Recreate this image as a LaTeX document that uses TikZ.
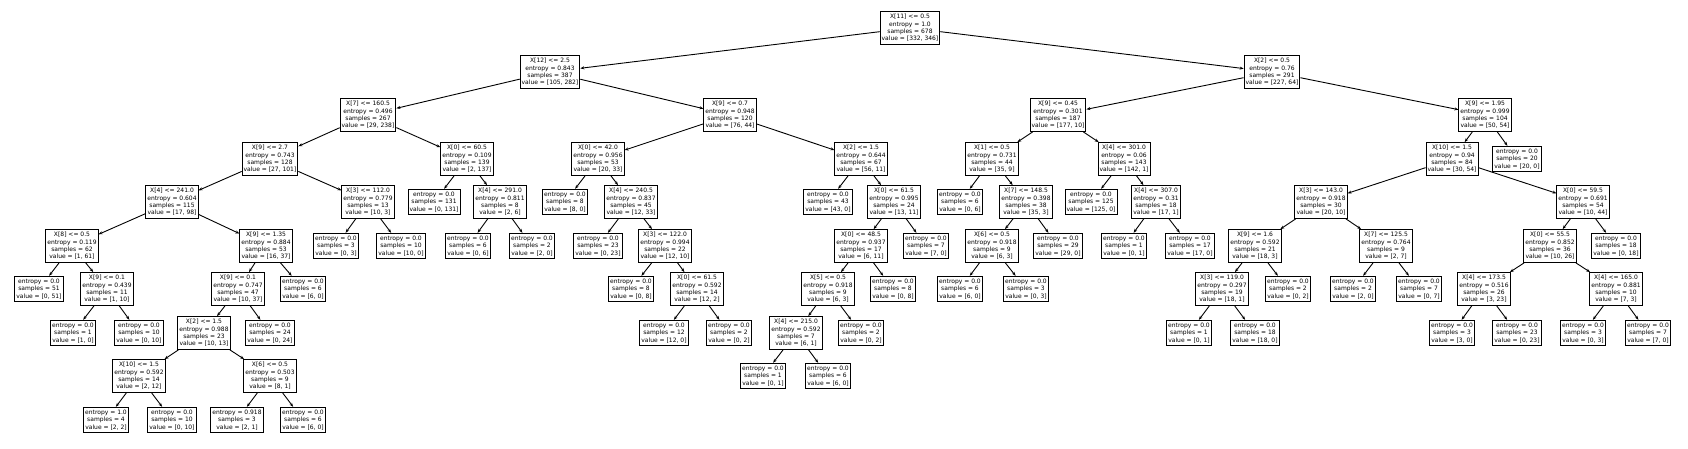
\documentclass[tikz,border=0pt]{standalone}
\usepackage{fontspec}
\setmainfont{DejaVu Sans}
\usepackage{tikz}
\usetikzlibrary{arrows.meta}
\tikzstyle{box} = [rectangle, draw=black, fill=white, line width=0.9pt, align=center, inner xsep=1.5pt, inner ysep=2.8pt, font=\fontsize{6}{7.3}\selectfont]
\tikzstyle{arrow} = [line width=0.9pt, ->, >={Stealth[length=4pt, width=3pt]}]

\begin{document}
\begin{tikzpicture}[x=1pt, y=-1pt]
  \useasboundingbox (0,0) rectangle (1688,449);

  % left half of the tree
  \node[box] (n0) at (910,28) {X[11] <= 0.5\\entropy = 1.0\\samples = 678\\value = [332, 346]};
  \node[box] (n1) at (550,72) {X[12] <= 2.5\\entropy = 0.843\\samples = 387\\value = [105, 282]};
  \node[box] (n2) at (368,115) {X[7] <= 160.5\\entropy = 0.496\\samples = 267\\value = [29, 238]};
  \node[box] (n3) at (270,159) {X[9] <= 2.7\\entropy = 0.743\\samples = 128\\value = [27, 101]};
  \node[box] (n4) at (172,202) {X[4] <= 241.0\\entropy = 0.604\\samples = 115\\value = [17, 98]};
  \node[box] (n5) at (72,246) {X[8] <= 0.5\\entropy = 0.119\\samples = 62\\value = [1, 61]};
  \node[box] (n6) at (39,289) {entropy = 0.0\\samples = 51\\value = [0, 51]};
  \node[box] (n7) at (107,289) {X[9] <= 0.1\\entropy = 0.439\\samples = 11\\value = [1, 10]};
  \node[box] (n8) at (73,333) {entropy = 0.0\\samples = 1\\value = [1, 0]};
  \node[box] (n9) at (139,333) {entropy = 0.0\\samples = 10\\value = [0, 10]};
  \node[box] (n10) at (266,246) {X[9] <= 1.35\\entropy = 0.884\\samples = 53\\value = [16, 37]};
  \node[box] (n11) at (238,289) {X[9] <= 0.1\\entropy = 0.747\\samples = 47\\value = [10, 37]};
  \node[box] (n12) at (204,333) {X[2] <= 1.5\\entropy = 0.988\\samples = 23\\value = [10, 13]};
  \node[box] (n13) at (139,376) {X[10] <= 1.5\\entropy = 0.592\\samples = 14\\value = [2, 12]};
  \node[box] (n14) at (106,420) {entropy = 1.0\\samples = 4\\value = [2, 2]};
  \node[box] (n15) at (172,420) {entropy = 0.0\\samples = 10\\value = [0, 10]};
  \node[box] (n16) at (270,376) {X[6] <= 0.5\\entropy = 0.503\\samples = 9\\value = [8, 1]};
  \node[box] (n17) at (237,420) {entropy = 0.918\\samples = 3\\value = [2, 1]};
  \node[box] (n18) at (303,420) {entropy = 0.0\\samples = 6\\value = [6, 0]};
  \node[box] (n19) at (270,333) {entropy = 0.0\\samples = 24\\value = [0, 24]};
  \node[box] (n20) at (303,289) {entropy = 0.0\\samples = 6\\value = [6, 0]};
  \node[box] (n21) at (368,202) {X[3] <= 112.0\\entropy = 0.779\\samples = 13\\value = [10, 3]};
  \node[box] (n22) at (336,246) {entropy = 0.0\\samples = 3\\value = [0, 3]};
  \node[box] (n23) at (401,246) {entropy = 0.0\\samples = 10\\value = [10, 0]};
  \node[box] (n24) at (467,159) {X[0] <= 60.5\\entropy = 0.109\\samples = 139\\value = [2, 137]};
  \node[box] (n25) at (434,202) {entropy = 0.0\\samples = 131\\value = [0, 131]};
  \node[box] (n26) at (500,202) {X[4] <= 291.0\\entropy = 0.811\\samples = 8\\value = [2, 6]};
  \node[box] (n27) at (468,246) {entropy = 0.0\\samples = 6\\value = [0, 6]};
  \node[box] (n28) at (532,246) {entropy = 0.0\\samples = 2\\value = [2, 0]};
  \node[box] (n29) at (730,115) {X[9] <= 0.7\\entropy = 0.948\\samples = 120\\value = [76, 44]};
  \node[box] (n30) at (598,159) {X[0] <= 42.0\\entropy = 0.956\\samples = 53\\value = [20, 33]};
  \node[box] (n31) at (565,202) {entropy = 0.0\\samples = 8\\value = [8, 0]};
  \node[box] (n32) at (631,202) {X[4] <= 240.5\\entropy = 0.837\\samples = 45\\value = [12, 33]};
  \node[box] (n33) at (598,246) {entropy = 0.0\\samples = 23\\value = [0, 23]};
  \node[box] (n34) at (665,246) {X[3] <= 122.0\\entropy = 0.994\\samples = 22\\value = [12, 10]};
  \node[box] (n35) at (631,289) {entropy = 0.0\\samples = 8\\value = [0, 8]};
  \node[box] (n36) at (697,289) {X[0] <= 61.5\\entropy = 0.592\\samples = 14\\value = [12, 2]};
  \node[box] (n37) at (664,333) {entropy = 0.0\\samples = 12\\value = [12, 0]};
  \node[box] (n38) at (729,333) {entropy = 0.0\\samples = 2\\value = [0, 2]};
  \node[box] (n39) at (861,159) {X[2] <= 1.5\\entropy = 0.644\\samples = 67\\value = [56, 11]};
  \node[box] (n40) at (828,202) {entropy = 0.0\\samples = 43\\value = [43, 0]};
  \node[box] (n41) at (894,202) {X[0] <= 61.5\\entropy = 0.995\\samples = 24\\value = [13, 11]};
  \node[box] (n42) at (861,246) {X[0] <= 48.5\\entropy = 0.937\\samples = 17\\value = [6, 11]};
  \node[box] (n43) at (828,289) {X[5] <= 0.5\\entropy = 0.918\\samples = 9\\value = [6, 3]};
  \node[box] (n44) at (796,333) {X[4] <= 215.0\\entropy = 0.592\\samples = 7\\value = [6, 1]};
  \node[box] (n45) at (763,376) {entropy = 0.0\\samples = 1\\value = [0, 1]};
  \node[box] (n46) at (828,376) {entropy = 0.0\\samples = 6\\value = [6, 0]};
  \node[box] (n47) at (861,333) {entropy = 0.0\\samples = 2\\value = [0, 2]};
  \node[box] (n48) at (893,289) {entropy = 0.0\\samples = 8\\value = [0, 8]};
  \node[box] (n49) at (926,246) {entropy = 0.0\\samples = 7\\value = [7, 0]};

  % right half of the tree
  \node[box] (n50) at (1272,72) {X[2] <= 0.5\\entropy = 0.76\\samples = 291\\value = [227, 64]};
  \node[box] (n51) at (1058,115) {X[9] <= 0.45\\entropy = 0.301\\samples = 187\\value = [177, 10]};
  \node[box] (n52) at (992,159) {X[1] <= 0.5\\entropy = 0.731\\samples = 44\\value = [35, 9]};
  \node[box] (n53) at (960,202) {entropy = 0.0\\samples = 6\\value = [0, 6]};
  \node[box] (n54) at (1026,202) {X[7] <= 148.5\\entropy = 0.398\\samples = 38\\value = [35, 3]};
  \node[box] (n55) at (992,246) {X[6] <= 0.5\\entropy = 0.918\\samples = 9\\value = [6, 3]};
  \node[box] (n56) at (960,289) {entropy = 0.0\\samples = 6\\value = [6, 0]};
  \node[box] (n57) at (1026,289) {entropy = 0.0\\samples = 3\\value = [0, 3]};
  \node[box] (n58) at (1058,246) {entropy = 0.0\\samples = 29\\value = [29, 0]};
  \node[box] (n59) at (1124,159) {X[4] <= 301.0\\entropy = 0.06\\samples = 143\\value = [142, 1]};
  \node[box] (n60) at (1091,202) {entropy = 0.0\\samples = 125\\value = [125, 0]};
  \node[box] (n61) at (1156,202) {X[4] <= 307.0\\entropy = 0.31\\samples = 18\\value = [17, 1]};
  \node[box] (n62) at (1124,246) {entropy = 0.0\\samples = 1\\value = [0, 1]};
  \node[box] (n63) at (1190,246) {entropy = 0.0\\samples = 17\\value = [17, 0]};
  \node[box] (n64) at (1485,115) {X[9] <= 1.95\\entropy = 0.999\\samples = 104\\value = [50, 54]};
  \node[box] (n65) at (1452,159) {X[10] <= 1.5\\entropy = 0.94\\samples = 84\\value = [30, 54]};
  \node[box] (n66) at (1321,202) {X[3] <= 143.0\\entropy = 0.918\\samples = 30\\value = [20, 10]};
  \node[box] (n67) at (1255,246) {X[9] <= 1.6\\entropy = 0.592\\samples = 21\\value = [18, 3]};
  \node[box] (n68) at (1222,289) {X[3] <= 119.0\\entropy = 0.297\\samples = 19\\value = [18, 1]};
  \node[box] (n69) at (1189,333) {entropy = 0.0\\samples = 1\\value = [0, 1]};
  \node[box] (n70) at (1255,333) {entropy = 0.0\\samples = 18\\value = [18, 0]};
  \node[box] (n71) at (1288,289) {entropy = 0.0\\samples = 2\\value = [0, 2]};
  \node[box] (n72) at (1386,246) {X[7] <= 125.5\\entropy = 0.764\\samples = 9\\value = [2, 7]};
  \node[box] (n73) at (1353,289) {entropy = 0.0\\samples = 2\\value = [2, 0]};
  \node[box] (n74) at (1419,289) {entropy = 0.0\\samples = 7\\value = [0, 7]};
  \node[box] (n75) at (1583,202) {X[0] <= 59.5\\entropy = 0.691\\samples = 54\\value = [10, 44]};
  \node[box] (n76) at (1550,246) {X[0] <= 55.5\\entropy = 0.852\\samples = 36\\value = [10, 26]};
  \node[box] (n77) at (1484,289) {X[4] <= 173.5\\entropy = 0.516\\samples = 26\\value = [3, 23]};
  \node[box] (n78) at (1452,333) {entropy = 0.0\\samples = 3\\value = [3, 0]};
  \node[box] (n79) at (1517,333) {entropy = 0.0\\samples = 23\\value = [0, 23]};
  \node[box] (n80) at (1616,289) {X[4] <= 165.0\\entropy = 0.881\\samples = 10\\value = [7, 3]};
  \node[box] (n81) at (1583,333) {entropy = 0.0\\samples = 3\\value = [0, 3]};
  \node[box] (n82) at (1648,333) {entropy = 0.0\\samples = 7\\value = [7, 0]};
  \node[box] (n83) at (1616,246) {entropy = 0.0\\samples = 18\\value = [0, 18]};
  \node[box] (n84) at (1517,159) {entropy = 0.0\\samples = 20\\value = [20, 0]};

  % edges
  \draw[arrow] (n0) -- (n1);
  \draw[arrow] (n1) -- (n2);
  \draw[arrow] (n2) -- (n3);
  \draw[arrow] (n3) -- (n4);
  \draw[arrow] (n4) -- (n5);
  \draw[arrow] (n5) -- (n6);
  \draw[arrow] (n5) -- (n7);
  \draw[arrow] (n7) -- (n8);
  \draw[arrow] (n7) -- (n9);
  \draw[arrow] (n4) -- (n10);
  \draw[arrow] (n10) -- (n11);
  \draw[arrow] (n11) -- (n12);
  \draw[arrow] (n12) -- (n13);
  \draw[arrow] (n13) -- (n14);
  \draw[arrow] (n13) -- (n15);
  \draw[arrow] (n12) -- (n16);
  \draw[arrow] (n16) -- (n17);
  \draw[arrow] (n16) -- (n18);
  \draw[arrow] (n11) -- (n19);
  \draw[arrow] (n10) -- (n20);
  \draw[arrow] (n3) -- (n21);
  \draw[arrow] (n21) -- (n22);
  \draw[arrow] (n21) -- (n23);
  \draw[arrow] (n2) -- (n24);
  \draw[arrow] (n24) -- (n25);
  \draw[arrow] (n24) -- (n26);
  \draw[arrow] (n26) -- (n27);
  \draw[arrow] (n26) -- (n28);
  \draw[arrow] (n1) -- (n29);
  \draw[arrow] (n29) -- (n30);
  \draw[arrow] (n30) -- (n31);
  \draw[arrow] (n30) -- (n32);
  \draw[arrow] (n32) -- (n33);
  \draw[arrow] (n32) -- (n34);
  \draw[arrow] (n34) -- (n35);
  \draw[arrow] (n34) -- (n36);
  \draw[arrow] (n36) -- (n37);
  \draw[arrow] (n36) -- (n38);
  \draw[arrow] (n29) -- (n39);
  \draw[arrow] (n39) -- (n40);
  \draw[arrow] (n39) -- (n41);
  \draw[arrow] (n41) -- (n42);
  \draw[arrow] (n42) -- (n43);
  \draw[arrow] (n43) -- (n44);
  \draw[arrow] (n44) -- (n45);
  \draw[arrow] (n44) -- (n46);
  \draw[arrow] (n43) -- (n47);
  \draw[arrow] (n42) -- (n48);
  \draw[arrow] (n41) -- (n49);
  \draw[arrow] (n0) -- (n50);
  \draw[arrow] (n50) -- (n51);
  \draw[arrow] (n51) -- (n52);
  \draw[arrow] (n52) -- (n53);
  \draw[arrow] (n52) -- (n54);
  \draw[arrow] (n54) -- (n55);
  \draw[arrow] (n55) -- (n56);
  \draw[arrow] (n55) -- (n57);
  \draw[arrow] (n54) -- (n58);
  \draw[arrow] (n51) -- (n59);
  \draw[arrow] (n59) -- (n60);
  \draw[arrow] (n59) -- (n61);
  \draw[arrow] (n61) -- (n62);
  \draw[arrow] (n61) -- (n63);
  \draw[arrow] (n50) -- (n64);
  \draw[arrow] (n64) -- (n65);
  \draw[arrow] (n65) -- (n66);
  \draw[arrow] (n66) -- (n67);
  \draw[arrow] (n67) -- (n68);
  \draw[arrow] (n68) -- (n69);
  \draw[arrow] (n68) -- (n70);
  \draw[arrow] (n67) -- (n71);
  \draw[arrow] (n66) -- (n72);
  \draw[arrow] (n72) -- (n73);
  \draw[arrow] (n72) -- (n74);
  \draw[arrow] (n65) -- (n75);
  \draw[arrow] (n75) -- (n76);
  \draw[arrow] (n76) -- (n77);
  \draw[arrow] (n77) -- (n78);
  \draw[arrow] (n77) -- (n79);
  \draw[arrow] (n76) -- (n80);
  \draw[arrow] (n80) -- (n81);
  \draw[arrow] (n80) -- (n82);
  \draw[arrow] (n75) -- (n83);
  \draw[arrow] (n64) -- (n84);
\end{tikzpicture}
\end{document}
